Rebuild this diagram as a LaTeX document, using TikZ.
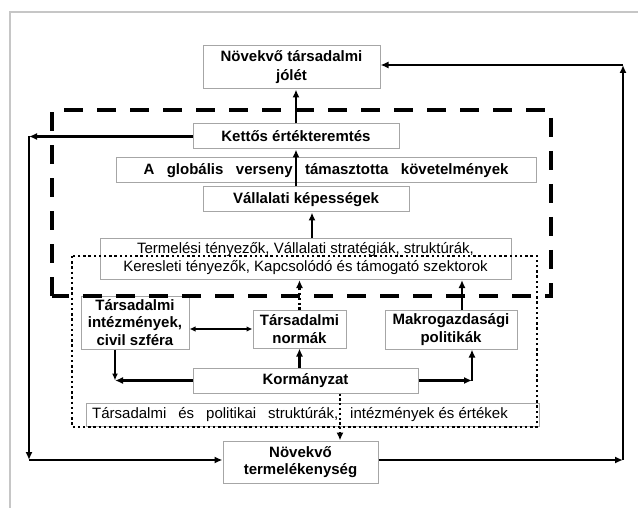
\documentclass[tikz,border=0pt]{standalone}
\usepackage{fontspec}
\setmainfont{Liberation Sans}
\usetikzlibrary{arrows.meta}

\begin{document}
\begin{tikzpicture}[x=1pt, y=-1pt,
    box/.style={draw=gray!70, line width=1pt, inner sep=0pt, align=center,
        font=\fontsize{15}{17.5}\selectfont\bfseries},
    plainbox/.style={box, font=\fontsize{15}{18}\selectfont},
    arr/.style={-{Latex[length=8pt,width=7pt]}, line width=2.2pt},
    thinarr/.style={{Latex[length=6pt,width=5.5pt]}-{Latex[length=6pt,width=5.5pt]}, line width=1.2pt},
    downarr/.style={-{Latex[length=7pt,width=6pt]}, line width=1.4pt},
    dotarr/.style={arr, dash pattern=on 2.2pt off 2.6pt},
    bigdash/.style={line width=4pt, dash pattern=on 19pt off 14pt},
    smalldot/.style={line width=2.4pt, dash pattern=on 2.4pt off 2.8pt}]
    \useasboundingbox (0,0) rectangle (638,508);
    % page frame
    \draw[gray!45, line width=2pt] (638,12) -- (10,12) -- (10,508);

    % boxes
    \node[box, minimum width=177pt, minimum height=43pt, font=\fontsize{15}{19}\selectfont\bfseries] (jolet) at (291.5,67.5)
        {Növekvő társadalmi\\jólét};
    \node[box, minimum width=206pt, minimum height=25pt] (kettos) at (296,136.5)
        {Kettős értékteremtés};
    \node[box, minimum width=420pt, minimum height=25pt, text width=365pt] (globalis) at (326,170.5)
        {A\hfill globális\hfill verseny\hfill támasztotta\hfill követelmények};
    \node[box, minimum width=206pt, minimum height=25pt] (kepesseg) at (306,199.5)
        {Vállalati képességek};
    \node[plainbox, minimum width=411pt, minimum height=41pt] (tenyezok) at (305.5,259)
        {Termelési tényezők, Vállalati stratégiák, struktúrák,\\
         Keresleti tényezők, Kapcsolódó és támogató szektorok};
    \node[box, minimum width=108pt, minimum height=53pt] (intezmeny) at (135,322.5)
        {Társadalmi\\intézmények,\\civil szféra};
    \node[box, minimum width=93pt, minimum height=38pt] (normak) at (299.5,329)
        {Társadalmi\\normák};
    \node[box, minimum width=132pt, minimum height=39pt] (makro) at (451,329.5)
        {Makrogazdasági\\politikák};
    \node[box, minimum width=225pt, minimum height=25pt] (kormany) at (305.5,380.5)
        {Kormányzat};
    \node[plainbox, minimum width=453pt, minimum height=23pt] (strukt) at (312.5,414.5)
        {Társadalmi\hspace{0.8em}és\hspace{0.8em}politikai\hspace{0.8em}struktúrák,\hspace{0.8em}intézmények és értékek\hspace{25pt}};
    \node[box, minimum width=155pt, minimum height=42pt] (termel) at (300.5,462)
        {Növekvő\\termelékenység};

    % dashed and dotted frames
    \draw[bigdash] (52,296) -- (52,110) -- (551,110) -- (551,296) -- cycle;
    \draw[smalldot] (72,256) rectangle (537,427);

    % upward chain
    \draw[arr] (kettos.north) -- (kettos.north |- jolet.south);
    \draw[arr] (kettos.south |- kepesseg.north) -- (kettos.south);
    \draw[arr] ([xshift=6.5pt]tenyezok.north) -- ([xshift=6.5pt]tenyezok.north |- kepesseg.south);
    \draw[dotarr] (normak.north) -- (normak.north |- tenyezok.south);
    \draw[arr] ([xshift=11pt]makro.north) -- ([xshift=11pt]makro.north |- tenyezok.south);

    % government level
    \draw[thinarr] (normak.west -| intezmeny.east) -- (normak.west);
    \draw[arr] (kormany.north -| normak.south) -- (normak.south);
    \coordinate (kl) at ([xshift=-20pt]intezmeny.south |- kormany.west);
    \draw[arr] (kormany.west) -- (kl);
    \draw[downarr] ([xshift=-20pt]intezmeny.south) -- (kl);
    \coordinate (kr) at ([xshift=21pt]makro.south |- kormany.east);
    \draw[arr] (kormany.east) -- (kr);
    \draw[arr] (kr) -- (kr |- makro.south);
    \draw[dotarr] ([xshift=34.5pt]kormany.south) -- ([xshift=34.5pt]kormany.south |- termel.north);

    % feedback loops
    \coordinate (lt) at (29,136.5);
    \coordinate (lb) at (29,460);
    \draw[arr] (kettos.west) -- (lt);
    \draw[arr] (lt) -- (lb);
    \draw[arr] (lb) -- (lb -| termel.west);
    \coordinate (rb) at (623,460);
    \coordinate (rt) at (623,65);
    \draw[arr] (rb -| termel.east) -- (rb);
    \draw[arr] (rb) -- (rt);
    \draw[arr] (rt) -- (rt -| jolet.east);
\end{tikzpicture}
\end{document}
